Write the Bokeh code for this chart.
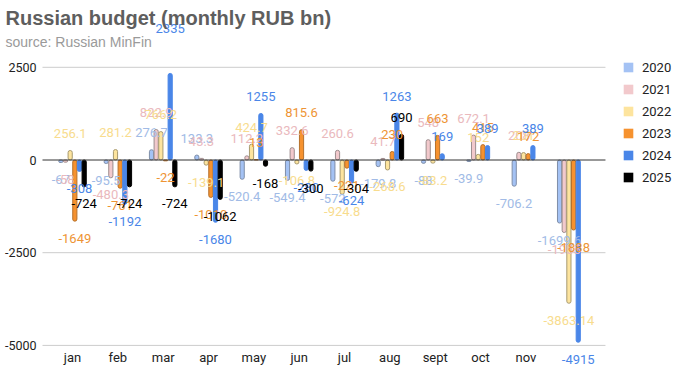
from bokeh.plotting import figure
from bokeh.models import ColumnDataSource, LabelSet, Label, Legend, LegendItem
from bokeh.embed import file_html
from bokeh.resources import INLINE
from bokeh.core.properties import value

# ---------------- data ----------------
months = ["jan", "feb", "mar", "apr", "may", "jun", "jul", "aug", "sept", "oct", "nov", "dec"]
years = ["2020", "2021", "2022", "2023", "2024", "2025"]

v2020 = [-67, -95.5, 276.7, 133.3, -520.4, -549.4, -572, -179.8, -88, -39.9, -706.2, -1699.6]
v2021 = [-58, -480.3, 822.9, 43.3, 112.2, 332.6, 260.6, 41.7, 548, 672.1, 208, -1955]
v2022 = [256.1, 281.2, 766.2, -139.1, 424.7, -106.8, -924.8, -268.6, -83.2, 152, 201, -3863.14]
v2023 = [-1649, -761, -22, -1010, 13, 815.6, -221, 230, 663, 415, 172, -1888]
v2024 = [-308, -1192, 2335, -1680, 1255, -280, -624, 1263, 169, 389, 389, -4915]
v2025 = [-724, -724, -724, -1062, -168, -300, -304, 690, None, None, None, None]

y_ticks = [-5000, -2500, 0, 2500]
x_tick_count = 11   # month names shown on the axis (jan .. nov)

# ---------------- style ----------------
series = [v2020, v2021, v2022, v2023, v2024, v2025]
fills = ["#a4c2f4", "#f2c9cc", "#fde49e", "#f6922f", "#4a86e8", "#000000"]
outlines = ["#7f8ea8", "#9c8c8d", "#a89a70", "#b5712c", "#4a86e8", "#000000"]
label_cols = ["#a1bbe6", "#eab9bd", "#f8dc8e", "#ee9434", "#4a86e8", "#000000"]

W, H = 676, 380
PX_PER_CAT = 45.34
PX_PER_UNIT = 0.03708
X0_PX, Y0_PX = 72.0, 159.5          # canvas position of (jan, 0)
x_start = -X0_PX / PX_PER_CAT
x_end = x_start + W / PX_PER_CAT
y_end = Y0_PX / PX_PER_UNIT
y_start = y_end - H / PX_PER_UNIT
PLOT_L, PLOT_R = -0.662, 11.755      # extent of the gridlines

p = figure(width=W, height=H, x_range=(x_start, x_end), y_range=(y_start, y_end),
           output_backend="svg", toolbar_location=None, title=None,
           min_border=0, min_border_left=0, min_border_right=0,
           min_border_top=0, min_border_bottom=0)
p.outline_line_color = None
p.xaxis.visible = False
p.yaxis.visible = False
p.grid.visible = False

# gridlines (gray) behind bars
gy = [t for t in y_ticks if t != 0]
p.segment(x0=[PLOT_L] * len(gy), x1=[PLOT_R] * len(gy), y0=gy, y1=gy,
          line_color="#cccccc", line_width=1)

# y tick labels
ysrc = ColumnDataSource(dict(x=[PLOT_L] * len(y_ticks), y=y_ticks,
                             t=[str(t) for t in y_ticks]))
p.add_layout(LabelSet(x="x", y="y", text="t", source=ysrc, x_offset=-6,
                      text_align="right", text_baseline="middle",
                      text_font=value("Roboto"), text_font_size="12.5px",
                      text_color="#222222"))
# x tick labels
xsrc = ColumnDataSource(dict(x=list(range(x_tick_count)), y=[min(y_ticks)] * x_tick_count,
                             t=months[:x_tick_count]))
p.add_layout(LabelSet(x="x", y="y", text="t", source=xsrc, y_offset=-12,
                      text_align="center", text_baseline="middle",
                      text_font=value("Roboto"), text_font_size="13px",
                      text_color="#222222"))

step = 0.103
for s, vals in enumerate(series):
    xs, tops, texts, offs = [], [], [], []
    for i, v in enumerate(vals):
        if v is None:
            continue
        xs.append(i + (s - 2.5) * step)
        tops.append(v)
        texts.append(f"{v:g}")
        if v >= 0:
            offs.append(45 if v > 2000 else 17)
        else:
            offs.append(-17)
    src = ColumnDataSource(dict(x=xs, top=tops, text=texts, off=offs))
    p.vbar(x="x", top="top", bottom=0, width=0.092, source=src,
           fill_color=fills[s], line_color=outlines[s], line_width=1, border_radius=2)
    p.add_layout(LabelSet(x="x", y="top", text="text", y_offset="off", source=src,
                          text_align="center", text_baseline="middle",
                          text_font=value("Roboto"), text_font_size="13px",
                          text_color=label_cols[s]))

# zero line on top of the bars
p.segment(x0=[PLOT_L], x1=[PLOT_R], y0=[0], y1=[0], line_color="#333333", line_width=1)

# legend (invisible stand-in renderers, plain squares)
items = []
for s, yr in enumerate(years):
    r = p.vbar(x=[0], top=[float("nan")], bottom=[float("nan")], width=0.1,
               fill_color=fills[s], line_color=None)
    items.append(LegendItem(label=yr, renderers=[r]))
legend = Legend(items=items, location=(622, H - 57 - 130),
                glyph_width=12, glyph_height=12, label_height=20, spacing=2,
                padding=0, margin=0, label_standoff=8,
                label_text_font="Roboto", label_text_font_size="13px",
                label_text_color="#222222",
                border_line_color=None, background_fill_alpha=0)
p.add_layout(legend, "center")

p.add_layout(Label(x=5, y=H - 17, x_units="screen", y_units="screen",
                   text="Russian budget (monthly RUB bn)", text_baseline="middle",
                   text_font="Liberation Sans", text_font_style="bold",
                   text_font_size="20px", text_color="#5e5e5e"))
p.add_layout(Label(x=5, y=H - 41, x_units="screen", y_units="screen",
                   text="source: Russian MinFin", text_baseline="middle",
                   text_font="Liberation Sans", text_font_size="14px",
                   text_color="#9a9a9a"))

open("out.html", "w").write(file_html(p, INLINE))
